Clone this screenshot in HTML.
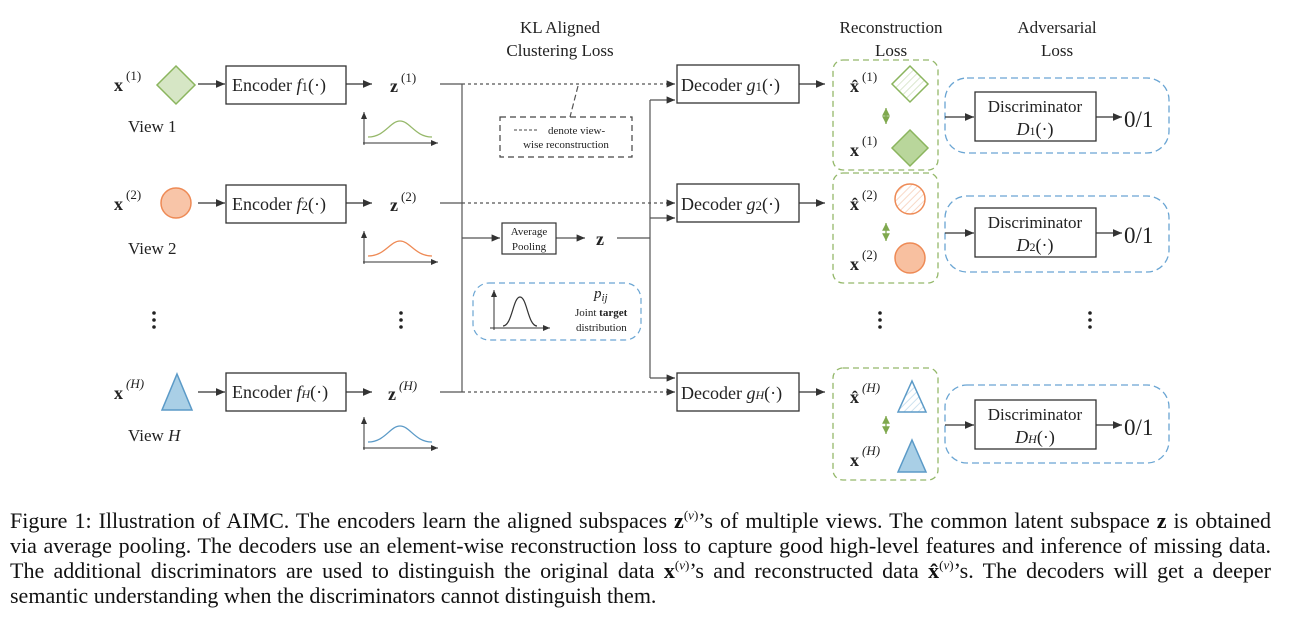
<!DOCTYPE html>
<html><head><meta charset="utf-8">
<style>
body{margin:0;background:#fff;width:1314px;height:625px;overflow:hidden}
svg{position:absolute;left:0;top:0}
text{font-family:"Liberation Serif",serif;fill:#222}
.cap{position:absolute;left:10px;top:508px;width:1261px;font-family:"Liberation Serif",serif;font-size:22px;line-height:25px;color:#111}
.cap div{text-align:justify;text-align-last:justify;white-space:nowrap;height:25px}
.cap div.last{text-align-last:left}
.cap sup{font-size:13px;line-height:0}
</style></head><body>
<svg width="1314" height="500" viewBox="0 0 1314 500">
<defs>
<marker id="ar" markerWidth="8" markerHeight="8" refX="7" refY="4" orient="auto"><path d="M0,1 L7,4 L0,7 Z" fill="#333"/></marker>
<marker id="ag" markerWidth="8" markerHeight="8" refX="6" refY="4" orient="auto-start-reverse"><path d="M0,1 L6,4 L0,7 Z" fill="#7fa84e"/></marker>
<pattern id="hg" width="5" height="5" patternUnits="userSpaceOnUse" patternTransform="rotate(45)"><line x1="0" y1="0" x2="0" y2="5" stroke="#cfe0bd" stroke-width="1.5"/></pattern>
<pattern id="ho" width="5" height="5" patternUnits="userSpaceOnUse" patternTransform="rotate(45)"><line x1="0" y1="0" x2="0" y2="5" stroke="#f6cdb6" stroke-width="1.5"/></pattern>
<pattern id="hb" width="5" height="5" patternUnits="userSpaceOnUse" patternTransform="rotate(45)"><line x1="0" y1="0" x2="0" y2="5" stroke="#bcd8ea" stroke-width="1.5"/></pattern>
</defs>

<g font-size="17" text-anchor="middle">
<text x="560" y="33">KL Aligned</text><text x="560" y="56">Clustering Loss</text>
<text x="891" y="33">Reconstruction</text><text x="891" y="56">Loss</text>
<text x="1057" y="33">Adversarial</text><text x="1057" y="56">Loss</text>
</g>

<g>
<text x="114" y="91" font-size="18" font-weight="bold">x</text><text x="126" y="80" font-size="13">(1)</text>
<polygon points="176,66 195,85 176,104 157,85" fill="#d6e6c5" stroke="#8bb55e" stroke-width="1.5"/>
<text x="128" y="132" font-size="17">View 1</text>
<line x1="198" y1="84" x2="225" y2="84" stroke="#333" stroke-width="1.3" marker-end="url(#ar)"/>
<rect x="226" y="66" width="120" height="38" fill="#fff" stroke="#333" stroke-width="1.3"/>
<text x="232" y="91" font-size="18">Encoder <tspan font-style="italic">f</tspan><tspan font-size="13">1</tspan>(·)</text>
<line x1="346" y1="84" x2="372" y2="84" stroke="#333" stroke-width="1.3" marker-end="url(#ar)"/>
<text x="390" y="92" font-size="18" font-weight="bold">z</text><text x="401" y="82" font-size="13">(1)</text>
<line x1="440" y1="84" x2="462" y2="84" stroke="#555" stroke-width="1.2"/>
<line x1="363" y1="143" x2="438" y2="143" stroke="#333" marker-end="url(#ar)"/><line x1="364" y1="145" x2="364" y2="112" stroke="#333" marker-end="url(#ar)"/>
<path d="M368,137 C385,137 390,121 400,121 C410,121 415,137 432,137" fill="none" stroke="#96b86a" stroke-width="1.3"/>
</g>

<g>
<text x="114" y="210" font-size="18" font-weight="bold">x</text><text x="126" y="199" font-size="13">(2)</text>
<circle cx="176" cy="203" r="15" fill="#f8c5a8" stroke="#ee8a55" stroke-width="1.5"/>
<text x="128" y="254" font-size="17">View 2</text>
<line x1="198" y1="203" x2="225" y2="203" stroke="#333" stroke-width="1.3" marker-end="url(#ar)"/>
<rect x="226" y="185" width="120" height="38" fill="#fff" stroke="#333" stroke-width="1.3"/>
<text x="232" y="210" font-size="18">Encoder <tspan font-style="italic">f</tspan><tspan font-size="13">2</tspan>(·)</text>
<line x1="346" y1="203" x2="372" y2="203" stroke="#333" stroke-width="1.3" marker-end="url(#ar)"/>
<text x="390" y="211" font-size="18" font-weight="bold">z</text><text x="401" y="201" font-size="13">(2)</text>
<line x1="440" y1="203" x2="462" y2="203" stroke="#555" stroke-width="1.2"/>
<line x1="363" y1="262" x2="438" y2="262" stroke="#333" marker-end="url(#ar)"/><line x1="364" y1="264" x2="364" y2="231" stroke="#333" marker-end="url(#ar)"/>
<path d="M368,256 C385,256 390,241 400,241 C410,241 415,256 432,256" fill="none" stroke="#ee8a55" stroke-width="1.3"/>
</g>

<g>
<text x="114" y="399" font-size="18" font-weight="bold">x</text><text x="126" y="388" font-size="13" font-style="italic">(H)</text>
<polygon points="177,374 192,410 162,410" fill="#a9cfe6" stroke="#5b9ac7" stroke-width="1.5"/>
<text x="128" y="441" font-size="17">View <tspan font-style="italic">H</tspan></text>
<line x1="198" y1="392" x2="225" y2="392" stroke="#333" stroke-width="1.3" marker-end="url(#ar)"/>
<rect x="226" y="373" width="120" height="38" fill="#fff" stroke="#333" stroke-width="1.3"/>
<text x="232" y="398" font-size="18">Encoder <tspan font-style="italic">f</tspan><tspan font-size="12" font-style="italic">H</tspan>(·)</text>
<line x1="346" y1="392" x2="372" y2="392" stroke="#333" stroke-width="1.3" marker-end="url(#ar)"/>
<text x="388" y="400" font-size="18" font-weight="bold">z</text><text x="399" y="390" font-size="13" font-style="italic">(H)</text>
<line x1="440" y1="392" x2="462" y2="392" stroke="#555" stroke-width="1.2"/>
<line x1="363" y1="448" x2="438" y2="448" stroke="#333" marker-end="url(#ar)"/><line x1="364" y1="450" x2="364" y2="417" stroke="#333" marker-end="url(#ar)"/>
<path d="M368,442 C385,442 390,426 400,426 C410,426 415,442 432,442" fill="none" stroke="#5b9ac7" stroke-width="1.3"/>
</g>

<g stroke="#555" stroke-width="1.2" fill="none">
<line x1="462" y1="84" x2="462" y2="392"/>
<line x1="462" y1="84" x2="675" y2="84" stroke-dasharray="3,3" marker-end="url(#ar)"/>
<line x1="462" y1="203" x2="675" y2="203" stroke-dasharray="3,3" marker-end="url(#ar)"/>
<line x1="462" y1="392" x2="675" y2="392" stroke-dasharray="3,3" marker-end="url(#ar)"/>
<line x1="462" y1="238" x2="500" y2="238" marker-end="url(#ar)"/>
<line x1="556" y1="238" x2="585" y2="238" marker-end="url(#ar)"/>
<line x1="617" y1="238" x2="650" y2="238"/>
<line x1="650" y1="100" x2="650" y2="378"/>
<line x1="650" y1="100" x2="675" y2="100" marker-end="url(#ar)"/>
<line x1="650" y1="218" x2="675" y2="218" marker-end="url(#ar)"/>
<line x1="650" y1="378" x2="675" y2="378" marker-end="url(#ar)"/>
<line x1="578" y1="86" x2="570" y2="117" stroke-dasharray="6,3"/>
</g>
<rect x="502" y="223" width="54" height="31" fill="#fff" stroke="#333" stroke-width="1.2"/>
<text x="529" y="235" font-size="11" text-anchor="middle">Average</text><text x="529" y="250" font-size="11" text-anchor="middle">Pooling</text>
<text x="596" y="245" font-size="18" font-weight="bold">z</text>

<g>
<rect x="500" y="117" width="132" height="40" fill="none" stroke="#444" stroke-dasharray="6,4" stroke-width="1.2"/>
<line x1="514" y1="130" x2="538" y2="130" stroke="#444" stroke-dasharray="3,2"/>
<text x="548" y="134" font-size="11">denote view-</text>
<text x="566" y="148" font-size="11" text-anchor="middle">wise reconstruction</text>
</g>

<g>
<rect x="473" y="283" width="168" height="57" rx="16" fill="none" stroke="#6aa5d3" stroke-dasharray="6,4" stroke-width="1.2"/>
<line x1="490" y1="328" x2="550" y2="328" stroke="#333" marker-end="url(#ar)"/><line x1="494" y1="330" x2="494" y2="290" stroke="#333" marker-end="url(#ar)"/>
<path d="M503,326 C512,326 513,297 520,297 C527,297 528,326 537,326" fill="none" stroke="#333" stroke-width="1.2"/>
<text x="594" y="298" font-size="15" font-style="italic">p<tspan font-size="11" dy="3">ij</tspan></text>
<text x="575" y="316" font-size="11">Joint <tspan font-weight="bold">target</tspan></text>
<text x="576" y="331" font-size="11">distribution</text>
</g>

<g>
<rect x="677" y="65" width="122" height="38" fill="#fff" stroke="#333" stroke-width="1.3"/>
<text x="681" y="91" font-size="18">Decoder <tspan font-style="italic">g</tspan><tspan font-size="13">1</tspan>(·)</text>
<rect x="677" y="184" width="122" height="38" fill="#fff" stroke="#333" stroke-width="1.3"/>
<text x="681" y="210" font-size="18">Decoder <tspan font-style="italic">g</tspan><tspan font-size="13">2</tspan>(·)</text>
<rect x="677" y="373" width="122" height="38" fill="#fff" stroke="#333" stroke-width="1.3"/>
<text x="681" y="399" font-size="18">Decoder <tspan font-style="italic">g</tspan><tspan font-size="12" font-style="italic">H</tspan>(·)</text>
<g stroke="#333" stroke-width="1.3">
<line x1="799" y1="84" x2="825" y2="84" marker-end="url(#ar)"/>
<line x1="799" y1="203" x2="825" y2="203" marker-end="url(#ar)"/>
<line x1="799" y1="392" x2="825" y2="392" marker-end="url(#ar)"/>
</g>
</g>

<g>
<rect x="833" y="60" width="105" height="110" rx="10" fill="none" stroke="#94b86a" stroke-dasharray="6,4" stroke-width="1.3"/>
<rect x="833" y="173" width="105" height="110" rx="10" fill="none" stroke="#94b86a" stroke-dasharray="6,4" stroke-width="1.3"/>
<rect x="833" y="368" width="105" height="112" rx="10" fill="none" stroke="#94b86a" stroke-dasharray="6,4" stroke-width="1.3"/>
<text x="850" y="92" font-size="18" font-weight="bold">x̂</text><text x="862" y="81" font-size="13">(1)</text>
<polygon points="910,66 928,84 910,102 892,84" fill="url(#hg)" stroke="#8bb55e" stroke-width="1.5"/>
<text x="850" y="156" font-size="18" font-weight="bold">x</text><text x="862" y="145" font-size="13">(1)</text>
<polygon points="910,130 928,148 910,166 892,148" fill="#b9d69b" stroke="#8bb55e" stroke-width="1.5"/>
<line x1="886" y1="108" x2="886" y2="124" stroke="#7fa84e" stroke-width="1.3" marker-start="url(#ag)" marker-end="url(#ag)"/>
<text x="850" y="210" font-size="18" font-weight="bold">x̂</text><text x="862" y="199" font-size="13">(2)</text>
<circle cx="910" cy="199" r="15" fill="url(#ho)" stroke="#ee8a55" stroke-width="1.5"/>
<text x="850" y="270" font-size="18" font-weight="bold">x</text><text x="862" y="259" font-size="13">(2)</text>
<circle cx="910" cy="258" r="15" fill="#f8c0a0" stroke="#ee8a55" stroke-width="1.5"/>
<line x1="886" y1="223" x2="886" y2="241" stroke="#7fa84e" stroke-width="1.3" marker-start="url(#ag)" marker-end="url(#ag)"/>
<text x="850" y="403" font-size="18" font-weight="bold">x̂</text><text x="862" y="392" font-size="13" font-style="italic">(H)</text>
<polygon points="912,381 926,412 898,412" fill="url(#hb)" stroke="#5b9ac7" stroke-width="1.5"/>
<text x="850" y="466" font-size="18" font-weight="bold">x</text><text x="862" y="455" font-size="13" font-style="italic">(H)</text>
<polygon points="912,440 926,472 898,472" fill="#a9cfe6" stroke="#5b9ac7" stroke-width="1.5"/>
<line x1="886" y1="416" x2="886" y2="434" stroke="#7fa84e" stroke-width="1.3" marker-start="url(#ag)" marker-end="url(#ag)"/>
</g>

<g>
<rect x="945" y="78" width="224" height="75" rx="22" fill="none" stroke="#6aa5d3" stroke-dasharray="7,4" stroke-width="1.3"/>
<rect x="945" y="196" width="224" height="76" rx="22" fill="none" stroke="#6aa5d3" stroke-dasharray="7,4" stroke-width="1.3"/>
<rect x="945" y="385" width="224" height="78" rx="22" fill="none" stroke="#6aa5d3" stroke-dasharray="7,4" stroke-width="1.3"/>
<g stroke="#333" stroke-width="1.3">
<line x1="945" y1="117" x2="974" y2="117" marker-end="url(#ar)"/><line x1="1096" y1="117" x2="1122" y2="117" marker-end="url(#ar)"/>
<line x1="945" y1="233" x2="974" y2="233" marker-end="url(#ar)"/><line x1="1096" y1="233" x2="1122" y2="233" marker-end="url(#ar)"/>
<line x1="945" y1="425" x2="974" y2="425" marker-end="url(#ar)"/><line x1="1096" y1="425" x2="1122" y2="425" marker-end="url(#ar)"/>
</g>
<rect x="975" y="92" width="121" height="49" fill="#fff" stroke="#333" stroke-width="1.3"/>
<text x="1035" y="112" font-size="17" text-anchor="middle">Discriminator</text>
<text x="1035" y="135" font-size="18" text-anchor="middle"><tspan font-style="italic">D</tspan><tspan font-size="12">1</tspan>(·)</text>
<rect x="975" y="208" width="121" height="49" fill="#fff" stroke="#333" stroke-width="1.3"/>
<text x="1035" y="228" font-size="17" text-anchor="middle">Discriminator</text>
<text x="1035" y="251" font-size="18" text-anchor="middle"><tspan font-style="italic">D</tspan><tspan font-size="12">2</tspan>(·)</text>
<rect x="975" y="400" width="121" height="49" fill="#fff" stroke="#333" stroke-width="1.3"/>
<text x="1035" y="420" font-size="17" text-anchor="middle">Discriminator</text>
<text x="1035" y="443" font-size="18" text-anchor="middle"><tspan font-style="italic">D</tspan><tspan font-size="12" font-style="italic">H</tspan>(·)</text>
<text x="1124" y="127" font-size="23">0/1</text>
<text x="1124" y="243" font-size="23">0/1</text>
<text x="1124" y="435" font-size="23">0/1</text>
</g>

<g fill="#222">
<circle cx="154" cy="313" r="1.8"/><circle cx="154" cy="320" r="1.8"/><circle cx="154" cy="327" r="1.8"/>
<circle cx="401" cy="313" r="1.8"/><circle cx="401" cy="320" r="1.8"/><circle cx="401" cy="327" r="1.8"/>
<circle cx="880" cy="313" r="1.8"/><circle cx="880" cy="320" r="1.8"/><circle cx="880" cy="327" r="1.8"/>
<circle cx="1090" cy="313" r="1.8"/><circle cx="1090" cy="320" r="1.8"/><circle cx="1090" cy="327" r="1.8"/>
</g>
</svg>

<div class="cap">
<div>Figure 1: Illustration of AIMC. The encoders learn the aligned subspaces <b>z</b><sup>(<i>v</i>)</sup>’s of multiple views. The common latent subspace <b>z</b> is obtained</div>
<div>via average pooling. The decoders use an element-wise reconstruction loss to capture good high-level features and inference of missing data.</div>
<div>The additional discriminators are used to distinguish the original data <b>x</b><sup>(<i>v</i>)</sup>’s and reconstructed data <b>x̂</b><sup>(<i>v</i>)</sup>’s. The decoders will get a deeper</div>
<div class="last">semantic understanding when the discriminators cannot distinguish them.</div>
</div>
</body></html>
